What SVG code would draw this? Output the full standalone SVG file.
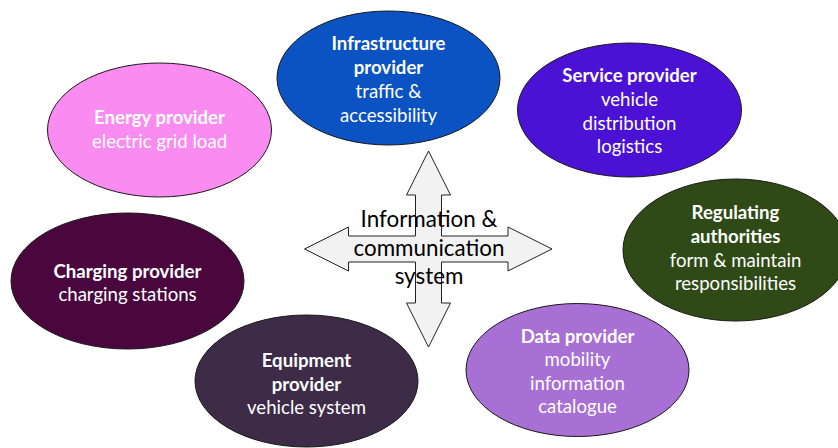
<svg xmlns="http://www.w3.org/2000/svg" width="838" height="448" viewBox="0 0 838 448">
<style>
  .node ellipse { stroke: #1a1a1a; stroke-width: 1; }
  .node text { font-family: Lato, "Open Sans", "Liberation Sans", sans-serif; font-size: 18.6px; fill: #ffffff; text-anchor: middle; }
  .node .b { font-weight: bold; }
  .center-text { font-family: Lato, "Open Sans", "Liberation Sans", sans-serif; font-size: 22.4px; fill: #000000; text-anchor: middle; }
  .cross { fill: #f2f2f2; stroke: #222222; stroke-width: 1; }
</style>
<rect width="838" height="448" fill="#ffffff"/>
<g id="connectors">
  <polygon class="cross" points="428.5,151 450.5,195 441.5,195 441.5,236 508,236 508,227 552,249 508,271 508,262 441.5,262 441.5,303 450.5,303 428.5,347 406.5,303 415.5,303 415.5,262 348.5,262 348.5,271 304.5,249 348.5,227 348.5,236 415.5,236 415.5,195 406.5,195"/>
</g>
<g id="center">
  <text class="center-text" x="429" y="226.5">Information &amp;</text>
  <text class="center-text" x="429" y="255.5">communication</text>
  <text class="center-text" x="429" y="283.5">system</text>
</g>
<g id="infrastructure" class="node">
  <ellipse cx="388.5" cy="78" rx="111.5" ry="67" fill="#0b52c2"/>
  <text class="b" x="388.5" y="50">Infrastructure</text>
  <text class="b" x="388.5" y="74">provider</text>
  <text x="388.5" y="98">traffic &amp;</text>
  <text x="388.5" y="121.5">accessibility</text>
</g>
<g id="service" class="node">
  <ellipse cx="629.5" cy="110" rx="112" ry="67" fill="#4b12d6"/>
  <text class="b" x="629.5" y="82">Service provider</text>
  <text x="629.5" y="106">vehicle</text>
  <text x="629.5" y="130">distribution</text>
  <text x="629.5" y="153">logistics</text>
</g>
<g id="energy" class="node">
  <ellipse cx="159.5" cy="130" rx="112" ry="67" fill="#fa8bf0"/>
  <text class="b" x="159.5" y="124">Energy provider</text>
  <text x="159.5" y="147.5">electric grid load</text>
</g>
<g id="regulating" class="node">
  <ellipse cx="735.5" cy="250" rx="112.5" ry="71" fill="#2f4a16"/>
  <text class="b" x="735.5" y="218.5">Regulating</text>
  <text class="b" x="735.5" y="243">authorities</text>
  <text x="735.5" y="267">form &amp; maintain</text>
  <text x="735.5" y="290">responsibilities</text>
</g>
<g id="charging" class="node">
  <ellipse cx="127.5" cy="281" rx="116.5" ry="68" fill="#4a073e"/>
  <text class="b" x="127.5" y="277.5">Charging provider</text>
  <text x="127.5" y="300.5">charging stations</text>
</g>
<g id="equipment" class="node">
  <ellipse cx="306.5" cy="381" rx="111.5" ry="66" fill="#3d2b47"/>
  <text class="b" x="306.5" y="367">Equipment</text>
  <text class="b" x="306.5" y="391">provider</text>
  <text x="306.5" y="414">vehicle system</text>
</g>
<g id="data" class="node">
  <ellipse cx="577.5" cy="370" rx="111.5" ry="66.5" fill="#a86fd4"/>
  <text class="b" x="577.5" y="342.5">Data provider</text>
  <text x="577.5" y="366">mobility</text>
  <text x="577.5" y="390">information</text>
  <text x="577.5" y="413">catalogue</text>
</g>
</svg>
